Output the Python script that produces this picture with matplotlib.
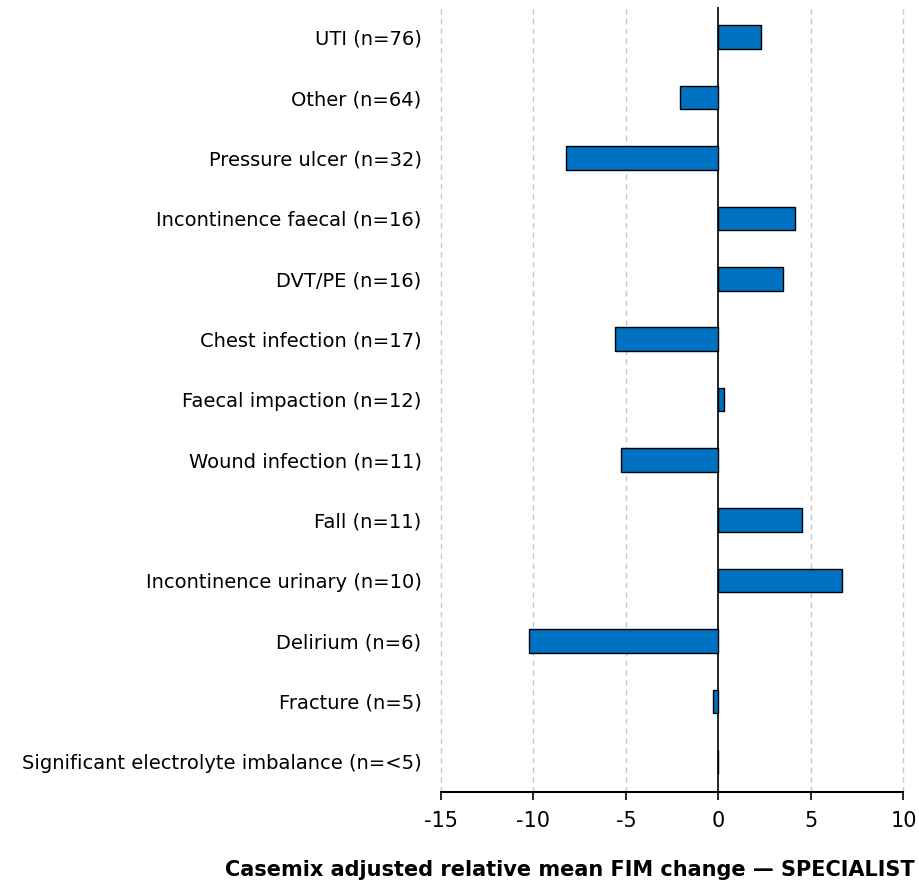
"""Casemix adjusted relative mean FIM change by complication - SPECIALIST."""
import numpy as np
import matplotlib
matplotlib.use('Agg')
import matplotlib.pyplot as plt

# categories top -> bottom
categories = [
    "UTI (n=76)",
    "Other (n=64)",
    "Pressure ulcer (n=32)",
    "Incontinence faecal (n=16)",
    "DVT/PE (n=16)",
    "Chest infection (n=17)",
    "Faecal impaction (n=12)",
    "Wound infection (n=11)",
    "Fall (n=11)",
    "Incontinence urinary (n=10)",
    "Delirium (n=6)",
    "Fracture (n=5)",
    "Significant electrolyte imbalance (n=<5)",
]
fim_change = [2.32, -2.1, -8.23, 4.16, 3.46, -5.57, 0.3, -5.26, 4.52, 6.65, -10.25, -0.29, 0.0]
x_ticks = [-15, -10, -5, 0, 5, 10]

fig = plt.figure(figsize=(9.2, 8.89), dpi=100)
ax = fig.add_axes([441/920, 97/889, 462.5/920, 785/889])

y_pos = np.arange(len(categories))
ax.barh(y_pos, fim_change, height=0.39, color='#0070C0',
        edgecolor='black', linewidth=1.0, zorder=3)

ax.set_xlim(-15, 10)
ax.set_ylim(len(categories) - 0.5, -0.5)
ax.set_xticks(x_ticks)
ax.set_xticklabels([str(t) for t in x_ticks], fontsize=15)
ax.set_yticks(y_pos)
ax.set_yticklabels(categories, fontsize=14)
ax.tick_params(axis='y', length=0, pad=14)
ax.tick_params(axis='x', length=6, width=1.2, pad=8, direction='out')

for t in x_ticks:
    if t == 0:
        ax.axvline(0, color='black', linewidth=1.2, zorder=2)
    else:
        ax.axvline(t, color='#c8c8c8', linewidth=1.0, linestyle=(0, (4, 3)),
                   zorder=1, clip_on=False)

for s in ['top', 'right', 'left']:
    ax.spines[s].set_visible(False)
ax.spines['bottom'].set_linewidth(1.5)

fig.text(915/920, 1 - 870/889, "Casemix adjusted relative mean FIM change \u2014 SPECIALIST",
         ha='right', va='center', fontsize=15, fontweight='bold')

plt.savefig('out.png', dpi=100)
